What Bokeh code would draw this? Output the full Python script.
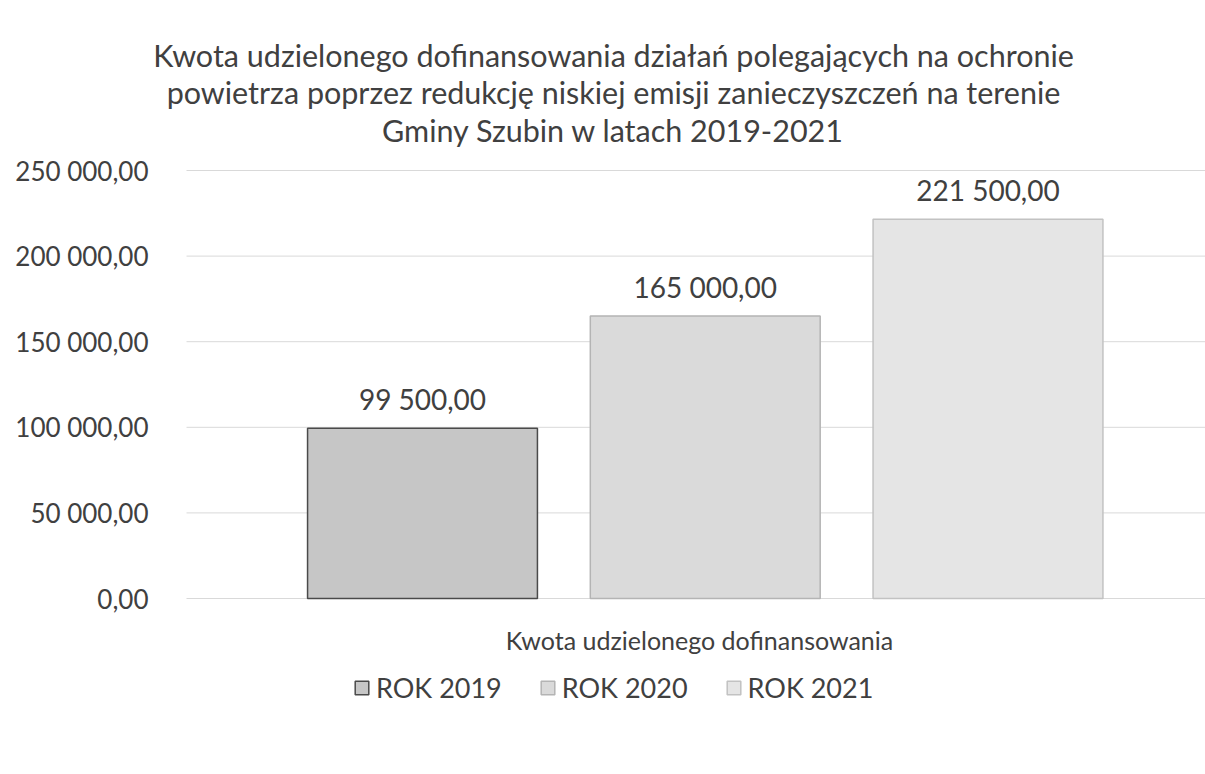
from bokeh.plotting import figure
from bokeh.models import LabelSet, Label, ColumnDataSource, Legend, LegendItem
from bokeh.core.properties import value
from bokeh.embed import file_html
from bokeh.resources import INLINE

title_lines = [
    "Kwota udzielonego dofinansowania działań polegających na ochronie",
    "powietrza poprzez redukcję niskiej emisji zanieczyszczeń na terenie",
    "Gminy Szubin w latach 2019-2021",
]
category_label = "Kwota udzielonego dofinansowania"
series = ["ROK 2019", "ROK 2020", "ROK 2021"]
values = [99500.0, 165000.0, 221500.0]
y_ticks = [0, 50000, 100000, 150000, 200000, 250000]
y_tick_labels = ["0,00", "50 000,00", "100 000,00", "150 000,00", "200 000,00", "250 000,00"]
y_max = 250000

FONT = "Lato"
TXT = "#404040"

def fmt(v):
    s = f"{v:,.2f}"
    return s.replace(",", " ").replace(".", ",")

fills = ["#c6c6c6", "#dadada", "#e5e5e5"]
lines = ["#4a4a4a", "#b4b4b4", "#c2c2c2"]

# layout in pixels
W, H = 1205, 774
PX_ZERO, PX_TOP = 598, 170          # canvas y of 0 and of y_max
PX_BAR0, PX_STEP = 422, 282.75      # canvas x of first bar centre, bar spacing
PLOT_LEFT_PX = 186

upp = y_max / (PX_ZERO - PX_TOP)
y0 = -(H - PX_ZERO) * upp
y1 = y_max + PX_TOP * upp
x0 = -PX_BAR0 / PX_STEP
x1 = (W - PX_BAR0) / PX_STEP
plot_left = (PLOT_LEFT_PX - PX_BAR0) / PX_STEP

src = ColumnDataSource(dict(
    x=list(range(len(series))),
    top=values,
    name=series,
    fill=fills,
    line=lines,
    lbl=[fmt(v) for v in values],
))

p = figure(width=W, height=H, output_backend="svg", toolbar_location=None,
           x_range=(x0, x1), y_range=(y0, y1),
           min_border=0, min_border_left=0, min_border_right=0,
           min_border_top=0, min_border_bottom=0)
p.outline_line_color = None
p.background_fill_color = "white"
p.border_fill_color = "white"
p.xaxis.visible = False
p.yaxis.visible = False
p.xgrid.visible = False
p.ygrid.visible = False

# gridlines
p.segment(x0=[plot_left] * len(y_ticks), x1=[x1] * len(y_ticks), y0=y_ticks, y1=y_ticks,
          line_color="#d9d9d9", line_width=1)

# tick labels
tick_src = ColumnDataSource(dict(x=[plot_left] * len(y_ticks), y=y_ticks, t=y_tick_labels))
p.add_layout(LabelSet(x="x", y="y", text="t", source=tick_src, text_align="right",
                      text_baseline="middle", x_offset=-(PLOT_LEFT_PX - 148),
                      text_font=value(FONT), text_font_size="26px", text_color=TXT))

r = p.vbar(x="x", top="top", width=0.813, source=src, fill_color="fill",
           line_color="line", line_width=1.5)

p.add_layout(LabelSet(x="x", y="top", text="lbl", source=src, text_align="center",
                      text_baseline="bottom", y_offset=12, text_font=value(FONT),
                      text_font_size="28px", text_color=TXT))

for i, t in enumerate(title_lines):
    p.add_layout(Label(x=613, y=H - (54 + 37.5 * i), x_units="screen", y_units="screen",
                       text=t, text_align="center", text_baseline="middle",
                       text_font=FONT, text_font_size="30.5px", text_color=TXT))

p.add_layout(Label(x=699, y=H - 639, x_units="screen", y_units="screen",
                   text=category_label, text_align="center", text_baseline="middle",
                   text_font=FONT, text_font_size="25px", text_color=TXT))

legend = Legend(items=[LegendItem(label=s, renderers=[r], index=i) for i, s in enumerate(series)],
                orientation="horizontal", location=(353, 70), margin=0, padding=0,
                label_text_font=FONT, label_text_font_size="27px", label_text_color=TXT,
                glyph_width=17, glyph_height=17, spacing=37, label_standoff=6,
                border_line_color=None, background_fill_alpha=0)
p.add_layout(legend, "center")

open("out.html", "w").write(file_html(p, INLINE))
